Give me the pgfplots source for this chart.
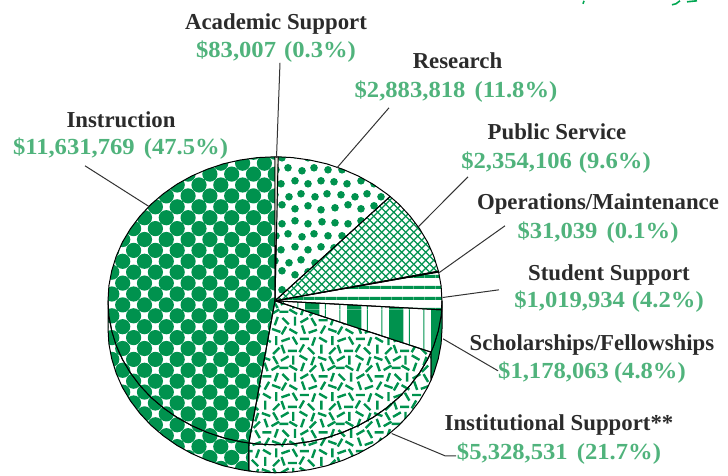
\documentclass[border=0pt]{standalone}
\usepackage{pgfplots}
\pgfplotsset{compat=1.18}
\usetikzlibrary{patterns}
\usepackage{fontspec}
\setmainfont{Liberation Serif}
\newfontfamily\valfont[FakeStretch=1.07]{Liberation Serif}
\definecolor{pgreen}{HTML}{00924E}
\definecolor{lgreen}{HTML}{50B37C}
\definecolor{dtext}{HTML}{2B2B2B}
\definecolor{leader}{HTML}{333333}
\definecolor{beige}{HTML}{E9E6D8}
\definecolor{bgreen}{HTML}{00A651}
\newcommand\dotat[2]{\pgfpathcircle{\pgfpoint{#1pt}{#2pt}}{3.8pt}}
\newcommand\dsh[4]{\pgfpathmoveto{\pgfpoint{0.85*#1pt-#3pt}{0.85*#2pt-#4pt}}\pgfpathlineto{\pgfpoint{0.85*#1pt+#3pt}{0.85*#2pt+#4pt}}}
\pgfdeclarepatternformonly{instr}{\pgfqpoint{-6pt}{-6pt}}{\pgfqpoint{28pt}{28pt}}{\pgfqpoint{21.8pt}{21.8pt}}{%
  \pgfpathcircle{\pgfqpoint{13.7pt}{18.3pt}}{7.6pt}%
  \pgfpathcircle{\pgfqpoint{2.8pt}{7.4pt}}{7.6pt}%
  \pgfusepath{fill}}
\pgfdeclarepatternformonly{hatch}{\pgfqpoint{0pt}{0pt}}{\pgfqpoint{8.2pt}{8.2pt}}{\pgfqpoint{8.2pt}{8.2pt}}{%
  \pgfsetlinewidth{1.5pt}%
  \pgfpathmoveto{\pgfqpoint{-1pt}{-1pt}}\pgfpathlineto{\pgfqpoint{9.2pt}{9.2pt}}%
  \pgfpathmoveto{\pgfqpoint{-1pt}{9.2pt}}\pgfpathlineto{\pgfqpoint{9.2pt}{-1pt}}%
  \pgfusepath{stroke}}
\pgfdeclarepatternformonly{hstripe}{\pgfqpoint{0pt}{0pt}}{\pgfqpoint{11.3pt}{11.3pt}}{\pgfqpoint{11.3pt}{11.3pt}}{%
  \pgfpathrectangle{\pgfqpoint{0pt}{7.5pt}}{\pgfqpoint{11.3pt}{3.2pt}}%
  \pgfusepath{fill}}
\pgfdeclarepatternformonly{vstripe}{\pgfqpoint{0pt}{0pt}}{\pgfqpoint{41.7pt}{41.7pt}}{\pgfqpoint{41.7pt}{41.7pt}}{%
  \pgfpathrectangle{\pgfqpoint{13.1pt}{0pt}}{\pgfqpoint{14.3pt}{41.7pt}}%
  \pgfpathrectangle{\pgfqpoint{33pt}{0pt}}{\pgfqpoint{1pt}{41.7pt}}%
  \pgfpathrectangle{\pgfqpoint{5.5pt}{0pt}}{\pgfqpoint{1pt}{41.7pt}}%
  \pgfusepath{fill}}
\pgfdeclarepatternformonly{rdots}{\pgfqpoint{-5pt}{-5pt}}{\pgfqpoint{71pt}{71pt}}{\pgfqpoint{66pt}{66pt}}{%
  \dotat{5}{4}\dotat{18}{7}\dotat{31}{3}\dotat{44}{6}\dotat{57}{2}%
  \dotat{11}{17}\dotat{25}{15}\dotat{37}{18}\dotat{51}{15}\dotat{63}{18}%
  \dotat{4}{30}\dotat{17}{28}\dotat{31}{31}\dotat{44}{28}\dotat{57}{31}%
  \dotat{12}{42}\dotat{24}{44}\dotat{38}{41}\dotat{50}{44}\dotat{64}{42}%
  \dotat{5}{55}\dotat{18}{54}\dotat{31}{57}\dotat{44}{54}\dotat{58}{56}%
  \pgfusepath{fill}}
\pgfdeclarepatternformonly{confetti}{\pgfqpoint{-6pt}{-6pt}}{\pgfqpoint{62.1pt}{62.1pt}}{\pgfqpoint{56.1pt}{56.1pt}}{%
  \pgfsetlinewidth{2.4pt}%
  \dsh{5}{6}{3.9}{2.25}\dsh{15}{4}{0}{4.5}\dsh{27}{7}{-3.9}{2.25}\dsh{38}{3}{1.5}{4.2}\dsh{49}{6}{4.2}{-1.5}\dsh{60}{4}{-2.25}{3.9}%
  \dsh{3}{17}{-1.5}{4.2}\dsh{14}{15}{4.5}{0}\dsh{25}{18}{2.25}{3.9}\dsh{36}{15}{-3.2}{3.2}\dsh{48}{17}{0}{4.5}\dsh{61}{15}{3.2}{3.2}%
  \dsh{6}{28}{4.2}{1.5}\dsh{17}{27}{-2.25}{3.9}\dsh{28}{29}{4.5}{0}\dsh{39}{26}{1.5}{4.2}\dsh{50}{28}{-3.9}{2.25}\dsh{61}{27}{0}{4.5}%
  \dsh{4}{39}{2.25}{3.9}\dsh{15}{38}{3.9}{-2.25}\dsh{27}{40}{-1.5}{4.2}\dsh{38}{38}{4.2}{1.5}\dsh{50}{40}{2.25}{3.9}\dsh{61}{39}{-4.2}{1.5}%
  \dsh{6}{50}{-3.2}{3.2}\dsh{17}{50}{0}{4.5}\dsh{28}{51}{3.9}{2.25}\dsh{39}{49}{-2.25}{3.9}\dsh{50}{51}{4.5}{0}\dsh{61}{50}{1.5}{4.2}%
  \dsh{4}{61}{4.5}{0}\dsh{15}{61}{-3.9}{2.25}\dsh{26}{62}{1.5}{4.2}\dsh{38}{60}{3.2}{3.2}\dsh{49}{62}{-1.5}{4.2}\dsh{60}{61}{3.9}{2.25}%
  \pgfusepath{stroke}}
\newcommand\lab[3]{\node[anchor=base,text=dtext,font=\fontsize{22.8}{23}\selectfont\bfseries,inner sep=0pt] at (axis cs:#1,#2) {#3};}
\newcommand\val[3]{\node[anchor=base,text=lgreen,font=\valfont\fontsize{23}{23}\selectfont\bfseries,inner sep=0pt] at (axis cs:#1,#2) {#3};}
\begin{document}
\begin{tikzpicture}
\begin{axis}[scale only axis,width=728pt,height=475pt,xmin=0,xmax=728,ymin=0,ymax=475,y dir=reverse,hide axis,clip=false]
% side walls
\addplot[pattern=instr,pattern color=pgreen,draw=black,line width=1pt,line join=round] coordinates {(248.9,442.2)(240.3,440.8)(223.4,437)(207.1,431.5)(191.5,424.7)(176.8,416.5)(163.3,407)(150.9,396.4)(139.9,384.6)(130.4,372)(122.4,358.6)(116.2,344.5)(111.7,329.9)(108.9,315)(108,300)(108,328)(108.9,343)(111.7,357.9)(116.2,372.5)(122.4,386.6)(130.4,400)(139.9,412.6)(150.9,424.4)(163.3,435)(176.8,444.5)(191.5,452.7)(207.1,459.5)(223.4,465)(240.3,468.8)(248.9,470.2)(248.9,442.2)};
\addplot[pattern=confetti,pattern color=pgreen,draw=black,line width=1pt,line join=round] coordinates {(431,351.3)(427.6,358.6)(419.6,372)(410.1,384.6)(399.1,396.4)(386.7,407)(373.2,416.5)(358.5,424.7)(342.9,431.5)(326.6,437)(309.7,440.8)(292.5,443.2)(275,444)(257.5,443.2)(248.9,442.2)(248.9,470.2)(257.5,471.2)(275,472)(292.5,471.2)(309.7,468.8)(326.6,465)(342.9,459.5)(358.5,452.7)(373.2,444.5)(386.7,435)(399.1,424.4)(410.1,412.6)(419.6,400)(427.6,386.6)(431,379.3)(431,351.3)};
\addplot[fill=pgreen,draw=black,line width=1pt,line join=round] coordinates {(442,300)(441.1,315)(438.3,329.9)(433.8,344.5)(431,351.3)(431,379.3)(433.8,372.5)(438.3,357.9)(441.1,343)(442,328)(442,300)};
% top slices
\addplot[pattern=instr,pattern color=pgreen,draw=black,line width=1pt,line join=round] coordinates {(275,300)(248.9,442.2)(240.3,440.8)(223.4,437)(207.1,431.5)(191.5,424.7)(176.8,416.5)(163.3,407)(150.9,396.4)(139.9,384.6)(130.4,372)(122.4,358.6)(116.2,344.5)(111.7,329.9)(108.9,315)(108,300)(108.9,285)(111.7,270.1)(116.2,255.5)(122.4,241.4)(130.4,228)(139.9,215.4)(150.9,203.6)(163.3,193)(176.8,183.5)(191.5,175.3)(207.1,168.5)(223.4,163)(240.3,159.2)(257.5,156.8)(275,156)(275,300)};
\addplot[pattern=confetti,pattern color=pgreen,draw=black,line width=1pt,line join=round] coordinates {(275,300)(431,351.3)(427.6,358.6)(419.6,372)(410.1,384.6)(399.1,396.4)(386.7,407)(373.2,416.5)(358.5,424.7)(342.9,431.5)(326.6,437)(309.7,440.8)(292.5,443.2)(275,444)(257.5,443.2)(248.9,442.2)(275,300)};
\addplot[pattern=vstripe,pattern color=pgreen,draw=black,line width=1pt,line join=round] coordinates {(275,300)(441.7,309)(441.1,315)(438.3,329.9)(433.8,344.5)(431,351.3)(275,300)};
\addplot[pattern=hstripe,pattern color=pgreen,draw=black,line width=1pt,line join=round] coordinates {(275,300)(438.6,271.2)(441.1,285)(442,300)(441.7,309)(275,300)};
\addplot[fill=black,draw=black,line width=1pt,line join=round] coordinates {(275,300)(438.4,270.4)(438.6,271.2)(275,300)};
\addplot[pattern=hatch,pattern color=pgreen,draw=black,line width=1pt,line join=round] coordinates {(275,300)(390.1,195.7)(399.1,203.6)(410.1,215.4)(419.6,228)(427.6,241.4)(433.8,255.5)(438.3,270.1)(438.4,270.4)(275,300)};
\addplot[pattern=rdots,pattern color=pgreen,draw=black,line width=1pt,line join=round] coordinates {(275,300)(278.1,156)(292.5,156.8)(309.7,159.2)(326.6,163)(342.9,168.5)(358.5,175.3)(373.2,183.5)(386.7,193)(390.1,195.7)(275,300)};
\addplot[fill=beige,draw=black,line width=0.9pt,line join=round] coordinates {(275,300)(275,156)(278.1,156)(275,300)};
% leader lines
\addplot[leader,line width=1pt] coordinates {(280,62)(276.5,157)};
\addplot[leader,line width=1pt] coordinates {(389,107)(337,167)};
\addplot[leader,line width=1pt] coordinates {(468,176)(418.3,226)};
\addplot[leader,line width=1pt] coordinates {(505,225)(439.3,271.7)};
\addplot[leader,line width=1pt] coordinates {(499,289)(442.7,296.7)};
\addplot[leader,line width=1pt] coordinates {(443,338)(498,370)};
\addplot[leader,line width=1pt] coordinates {(391.7,432.7)(445,455)(456,455)};
\addplot[leader,line width=1pt] coordinates {(85,165)(149,205.7)};
% cut off marks at the top edge
\addplot[color=bgreen,line width=1.6pt] coordinates {(584,0)(583,3)};
\addplot[color=bgreen,line width=1.6pt] coordinates {(680,0)(676,3)(672,4)};
\addplot[color=bgreen,line width=1.6pt] coordinates {(687,1)(697,0)};
% labels
\lab{276}{29}{Academic Support}
\val{276}{57}{\$83,007\hspace{0.35em}(0.3\%)}
\lab{457.5}{68}{Research}
\val{456}{97}{\$2,883,818\hspace{0.4em}(11.8\%)}
\lab{557}{139}{Public Service}
\val{556}{168}{\$2,354,106\hspace{0.3em}(9.6\%)}
\lab{598}{209}{Operations/Maintenance}
\val{598}{238}{\$31,039\hspace{0.4em}(0.1\%)}
\lab{609}{280}{Student Support}
\val{609}{307}{\$1,019,934\hspace{0.3em}(4.2\%)}
\lab{592}{350}{Scholarships/Fellowships}
\val{592}{378}{\$1,178,063\hspace{0.22em}(4.8\%)}
\lab{559}{430}{Institutional Support**}
\val{559}{459}{\$5,328,531\hspace{0.4em}(21.7\%)}
\lab{121}{127}{Instruction}
\val{120.5}{154}{\$11,631,769\hspace{0.4em}(47.5\%)}
\path (axis cs:0,0) rectangle (axis cs:728,475);
\end{axis}
\end{tikzpicture}
\end{document}
